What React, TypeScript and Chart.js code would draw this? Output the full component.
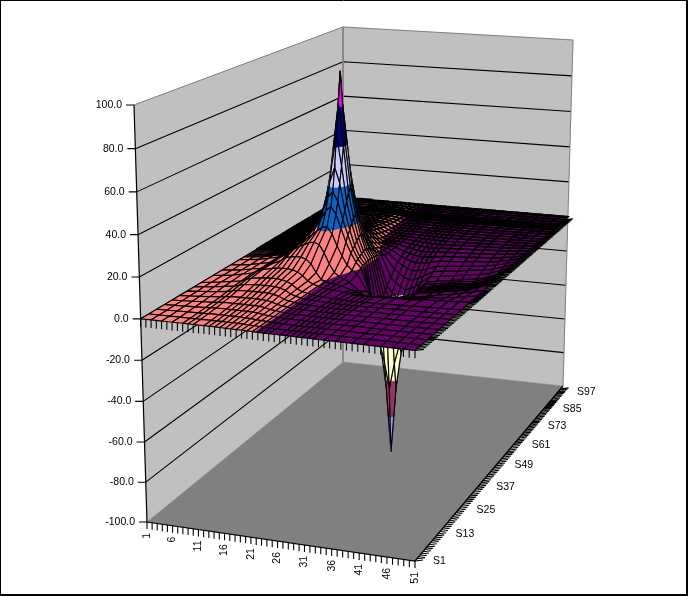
import React, { useEffect, useRef } from "react";
import { Chart, registerables } from "chart.js";

Chart.register(...registerables);

const COLS = [1,3,5,7,9,10,11,13,14,15,16,17,18,19,20,21,22,23,24,25,27,28,29,30,31,32,33,35,37,40,42,45,47,49,51];
const ROWS = [1,4,7,10,13,16,19,22,25,30,34,38,42,44,45,46,47,48,49,50,51,52,53,55,57,59,61,63,65,67,69,71,73,75,77,79,81,83,85,86,87,88,89,90,92,94,96,97];
const S1 = [0,.1,.1,.1,.2,.2,.2,.2,.2,.2,.2,.1,.1,.1,.1,.1,.05,-.1,-.1,-.1,-.1,-.1,-.1,-.1,-.1,-.1,-.1,-.1,-.1,-.1,-.1,-.1,-.1,-.05,-.05];
const S4 = [0,.1,.1,.2,.2,.3,.3,.4,.4,.4,.4,.4,.4,.3,.2,.1,.05,-.1,-.2,-.2,-.2,-.2,-.2,-.2,-.2,-.2,-.2,-.2,-.2,-.2,-.1,-.1,-.1,-.1,-.05];
const S7 = [0,.1,.3,.4,.5,.6,.7,.8,.8,.8,.8,.8,.7,.6,.3,.2,.1,-.2,-.2,-.3,-.3,-.3,-.3,-.3,-.3,-.3,-.3,-.3,-.3,-.3,-.2,-.2,-.1,-.1,-.05];
const S10 = [0,.2,.4,.6,.8,1,1.1,1.2,1.2,1.2,1.2,1.2,1.1,.9,.5,.2,.1,-.2,-.3,-.3,-.3,-.3,-.4,-.4,-.4,-.4,-.4,-.3,-.3,-.3,-.3,-.2,-.2,-.1,-.05];
const S13 = [0,.2,.5,.8,1.1,1.4,1.6,1.7,1.7,1.7,1.7,1.7,1.6,1.2,.6,.3,.1,-.3,-.3,-.4,-.4,-.4,-.5,-.5,-.5,-.5,-.5,-.4,-.4,-.4,-.3,-.3,-.2,-.1,-.05];
const S16 = [0,.3,.7,1.1,1.5,1.9,2.2,2.4,2.4,2.5,2.5,2.4,2.2,1.7,.8,.4,.1,-.3,-.4,-.4,-.5,-.5,-.6,-.6,-.6,-.6,-.6,-.5,-.5,-.4,-.4,-.3,-.2,-.1,-.05];
const S19 = [0,.4,.9,1.4,2,2.5,3,3.3,3.4,3.4,3.4,3.3,3,2.3,1.1,.5,.1,-.4,-.4,-.5,-.6,-.7,-.7,-.8,-.8,-.8,-.7,-.7,-.6,-.5,-.4,-.3,-.2,-.1,-.05];
const S22 = [0,.5,1.1,1.8,2.5,3.2,3.8,4.3,4.4,4.4,4.4,4.3,3.9,3,1.5,.6,.1,-.4,-.5,-.6,-.8,-.9,-1,-1,-1,-1,-1,-.9,-.8,-.6,-.5,-.4,-.3,-.1,-.05];
const S25 = [0,.6,1.3,2.1,2.9,3.9,4.8,5.5,5.7,5.9,5.9,5.6,5,3.8,1.8,.7,.1,-.5,-.6,-.8,-1.1,-1.2,-1.4,-1.5,-1.5,-1.5,-1.4,-1.3,-1.1,-.9,-.7,-.5,-.3,-.2,-.05];
const S28 = [0,.6,1.2,2.3,3.3,4.5,5.6,6.8,7.2,7.4,7.4,7,6.2,4.6,2.2,.8,.1,-.7,-.9,-1.1,-1.6,-2,-2.3,-2.5,-2.5,-2.5,-2.4,-2.2,-2,-1.8,-1.4,-1,-.7,-.4,-.05];
const S31 = [0,.5,1.1,2.1,3,4.3,5.6,8,9.8,10.4,10.8,10.8,10,7.8,3.6,.3,-.6,-1,-1.4,-2,-3.4,-4.4,-5.4,-6,-5.8,-5.4,-5,-5,-4.8,-4.2,-3.4,-2.6,-1.8,-.8,-.05];
const S34 = [0,.5,1.1,2.2,3.2,4.6,6.2,9.5,11.6,12.9,14.3,15.5,16,15,11,5.5,1.4,-.6,-1.5,-3,-7,-9,-11.5,-13,-12,-11,-9.5,-8,-7.4,-6.2,-5,-3.8,-2.6,-1.4,-.05];
const S36 = [0,.5,1.1,2.2,3.3,4.8,6.6,10.4,12.9,14.8,16.7,19,21,21.6,18,12,7,2.6,.2,-1.5,-10,-14,-18,-20,-18.5,-16,-13.5,-10,-8.4,-7.2,-6.2,-5,-3.8,-2,-.05];
const S38 = [0,.5,1.1,2.2,3.4,5,6.9,11.3,14.3,16.7,20,24,28.6,30.8,27,20,13,7.5,3,.2,-14,-21,-27,-30,-27,-22,-18,-12,-10,-8.6,-7.6,-6.5,-5,-2.8,-.05];
const S39 = [0,.5,1.1,2.2,3.4,5,7,11.5,14.8,17.8,22,27.6,34.8,38,33,24,16,9,4,.8,-17,-26,-34,-40,-34,-27,-21,-12.8,-10.6,-9.2,-8.2,-7.2,-5.6,-3.3,-.05];
const S40 = [0,.5,1.1,2.2,3.4,5,7,11.9,15.4,18.6,23.5,31,42,50,42,28,18,10,4.5,1,-26,-40,-50,-64,-50,-40,-30,-14,-11,-9.5,-8.5,-7.5,-6,-3.5,-.05];
const S41 = [0,.5,1.1,2.2,3.4,5,7,12,15.7,19.5,25,35,50,66,50,32,21,12,5.5,1.2,-36,-45,-64,-99.5,-64,-45,-36,-15,-11,-9.5,-8.5,-7.5,-6,-3.5,-.05];
const S42 = [0,.5,1.1,2.2,3.4,5,7.1,12.3,16,20,26,38,60,82,60,36,23,13,6,1.5,-30,-42,-54,-68,-54,-42,-31,-14.6,-11,-9.5,-8.5,-7.5,-6,-3.5,-.05];
const S43 = [0,.5,1.1,2.2,3.4,5,7.1,12.3,16,20,26.7,40,60,98,60,38,24,14,6.5,1.6,-23,-32,-40,-46,-40,-31,-24,-14,-11,-9.5,-8.5,-7.5,-6,-3.5,-.05];
const S44 = [0,.5,1.1,2.2,3.4,5,7.1,12.3,16,20,26,38,60,82,60,36,23,13,6,1.5,-21,-28,-33,-36,-33,-27,-21,-13,-11,-9.5,-8.5,-7.5,-6,-3.5,-.05];
const S45 = [0,.5,1.1,2.2,3.4,5,7,12,15.7,19.5,25,35,50,66,50,32,21,12,5.5,1.2,-19,-24,-28,-30,-28,-24,-19,-12.4,-11,-9.5,-8.5,-7.5,-6,-3.5,-.05];
const S46 = [0,.5,1.1,2.2,3.4,5,7,11.9,15.4,18.6,23.5,31,42,50,42,28,18,10,4.5,1,-17,-21,-24,-26,-24,-21,-17.4,-11.6,-10.6,-9.2,-8.2,-7.2,-5.6,-3.3,-.05];
const S47 = [0,.5,1.1,2.2,3.4,5,7,11.5,14.8,17.8,22,27.6,34.8,38,33,24,16,9,4,.8,-15,-18.5,-21,-23,-21.5,-19,-16,-11,-10,-8.8,-7.8,-6.8,-5.4,-3.2,-.05];
const S49 = [0,.5,1,2,3,4.4,6.2,9.6,13.5,15.7,18,21,23.5,25,21,15,9,4,1,-.3,-12,-14.5,-16.5,-18,-17,-15.5,-13.5,-9.6,-8.8,-7.8,-6.8,-5.8,-4.6,-2.7,-.05];
const S51 = [0,.4,.9,1.8,2.6,3.7,5.1,7.4,10.4,12.4,14.2,16,18,18,14,9,5,1.5,-.4,-2,-9,-11,-12.6,-14,-13.4,-12.5,-11,-8.2,-7.4,-6.6,-5.7,-4.8,-3.8,-2.2,-.05];
const S53 = [0,.4,.8,1.6,2.3,3.3,4.5,6,8,9.6,11,12.6,13.4,13,9.5,6,2.8,.4,-.8,-2,-6.6,-8,-9.4,-10.5,-10.2,-9.6,-8.8,-6.8,-6.2,-5.5,-4.8,-4,-3,-1.8,-.05];
const S55 = [0,.4,.8,1.5,2.2,3.1,4.2,5.5,6.5,7.8,9,10,10.4,9.8,6.8,4,1.4,-.6,-1,-1.8,-4.8,-5.8,-6.8,-7.5,-7.4,-7.1,-6.6,-5.4,-5,-4.4,-3.8,-3.2,-2.4,-1.4,-.05];
const S57 = [0,.4,.7,1.4,2.1,3,4,5,5.6,6.6,7.4,8,8.2,7.2,4.8,2.3,.2,-.5,-1,-1.5,-3.4,-4.2,-4.9,-5.5,-5.4,-5.2,-5,-4.2,-3.9,-3.4,-3,-2.4,-1.8,-1,-.05];
const S59 = [0,.3,.7,1.3,2,2.8,3.7,4.6,5,5.5,6,6.4,6.4,5.2,3.3,.9,-.6,-.8,-1,-1.3,-2.5,-3,-3.6,-4,-4,-3.9,-3.7,-3.2,-2.9,-2.6,-2.2,-1.8,-1.3,-.7,-.05];
const S61 = [0,.3,.7,1.3,1.9,2.6,3.4,4.2,4.4,4.8,5.1,5.4,5.2,4,2.2,.2,-.9,-.9,-1,-1.2,-1.9,-2.3,-2.7,-3,-3,-3,-2.9,-2.5,-2.2,-1.9,-1.6,-1.3,-.9,-.5,-.05];
const S63 = [0,.3,.7,1.2,1.7,2.5,3.2,3.8,4,4.2,4.4,4.6,4.2,3.1,1.4,-.3,-.8,-.9,-1,-1.1,-1.5,-1.8,-2,-2.2,-2.2,-2.2,-2.2,-2,-1.7,-1.4,-1.2,-1,-.7,-.3,-.05];
const S65 = [0,.2,.6,1.1,1.6,2.3,2.9,3.4,3.6,3.7,3.8,3.8,3.4,2.3,.8,-.6,-.8,-.9,-.9,-1,-1.2,-1.4,-1.5,-1.6,-1.7,-1.7,-1.7,-1.6,-1.4,-1.1,-.9,-.7,-.5,-.2,-.05];
const S67 = [0,.2,.5,1,1.5,2.1,2.6,3.1,3.2,3.2,3.3,3.2,2.7,1.8,.4,-.7,-.8,-.8,-.9,-.9,-1,-1.1,-1.2,-1.2,-1.3,-1.3,-1.3,-1.2,-1.1,-.9,-.7,-.5,-.4,-.2,-.05];
const S69 = [0,.2,.5,1,1.4,1.9,2.4,2.8,2.8,2.9,2.9,2.7,2.2,1.3,.1,-.7,-.7,-.8,-.8,-.8,-.9,-.9,-1,-1,-1,-1,-1,-1,-.9,-.7,-.6,-.5,-.3,-.2,-.05];
const S71 = [0,.2,.5,.9,1.3,1.8,2.2,2.5,2.5,2.5,2.5,2.3,1.8,1,-.1,-.7,-.7,-.7,-.7,-.7,-.8,-.8,-.8,-.8,-.8,-.8,-.8,-.8,-.7,-.6,-.5,-.4,-.3,-.2,-.05];
const S73 = [0,.2,.4,.8,1.1,1.6,2,2.2,2.2,2.2,2.2,1.9,1.4,.7,-.2,-.6,-.6,-.6,-.6,-.6,-.7,-.7,-.7,-.7,-.7,-.7,-.7,-.7,-.6,-.5,-.4,-.3,-.3,-.1,-.05];
const S75 = [0,.2,.4,.8,1.1,1.5,1.8,2,2,1.9,1.9,1.7,1.1,.5,-.3,-.6,-.6,-.6,-.6,-.6,-.6,-.6,-.6,-.6,-.6,-.6,-.6,-.6,-.5,-.4,-.4,-.3,-.2,-.1,-.05];
const S77 = [0,.2,.4,.7,1,1.3,1.6,1.7,1.7,1.7,1.6,1.4,.9,.3,-.3,-.5,-.5,-.5,-.5,-.5,-.5,-.5,-.5,-.5,-.5,-.5,-.5,-.5,-.5,-.4,-.3,-.3,-.2,-.1,-.05];
const S79 = [0,.1,.3,.7,.9,1.2,1.4,1.6,1.5,1.4,1.4,1.2,.7,.2,-.3,-.5,-.5,-.5,-.5,-.5,-.5,-.5,-.5,-.5,-.5,-.5,-.5,-.4,-.4,-.4,-.3,-.3,-.2,-.1,-.05];
const S81 = [0,.1,.3,.6,.8,1.1,1.3,1.3,1.3,1.3,1.2,1,.5,.1,-.3,-.4,-.4,-.4,-.4,-.4,-.4,-.4,-.4,-.4,-.4,-.4,-.4,-.4,-.4,-.3,-.3,-.2,-.2,-.1,-.05];
const S83 = [0,.1,.2,.5,.7,.9,1.1,1.1,1.1,1,1,.8,.4,.05,-.3,-.4,-.4,-.4,-.4,-.4,-.4,-.4,-.4,-.4,-.4,-.4,-.4,-.3,-.3,-.3,-.3,-.2,-.2,-.1,-.05];
const S85 = [0,.1,.2,.4,.6,.8,.9,1,.9,.8,.8,.6,.3,.02,-.3,-.3,-.3,-.3,-.3,-.3,-.3,-.3,-.3,-.3,-.3,-.3,-.3,-.3,-.3,-.3,-.2,-.2,-.2,-.1,-.05];
const S87 = [0,.1,.2,.4,.5,.7,.7,.8,.7,.7,.6,.5,.2,.02,-.2,-.3,-.3,-.3,-.3,-.3,-.3,-.3,-.3,-.3,-.3,-.3,-.3,-.3,-.2,-.2,-.2,-.2,-.1,-.1,-.05];
const S89 = [0,.1,.1,.3,.4,.5,.6,.6,.6,.5,.5,.3,.1,.02,-.2,-.2,-.2,-.2,-.2,-.2,-.2,-.2,-.2,-.2,-.2,-.2,-.2,-.2,-.2,-.2,-.2,-.1,-.1,-.1,-.05];
const S91 = [0,.1,.1,.2,.3,.4,.4,.5,.4,.4,.3,.2,.05,.01,-.2,-.2,-.2,-.2,-.2,-.2,-.2,-.2,-.2,-.2,-.2,-.2,-.2,-.2,-.2,-.1,-.1,-.1,-.1,-.1,-.05];
const S93 = [0,.1,.1,.2,.2,.2,.3,.3,.3,.2,.2,.1,.02,.01,-.1,-.1,-.1,-.1,-.1,-.1,-.1,-.1,-.1,-.1,-.1,-.1,-.1,-.1,-.1,-.1,-.1,-.1,-.1,-.1,-.05];
const S95 = [0,.05,.05,.1,.1,.1,.2,.2,.2,.1,.1,.1,.02,.01,-.1,-.1,-.1,-.1,-.1,-.1,-.1,-.1,-.1,-.1,-.1,-.1,-.1,-.1,-.1,-.1,-.1,-.1,-.1,-.05,-.05];
const S97 = [0,.05,.05,.1,.1,.1,.1,.1,.1,.1,.05,.05,.02,.01,-.05,-.05,-.05,-.05,-.05,-.05,-.05,-.05,-.05,-.05,-.05,-.05,-.05,-.05,-.05,-.05,-.05,-.05,-.05,-.05,-.05];
const VALUES = [S1,S4,S7,S10,S13,S16,S19,S22,S25,S28,S31,S34,S36,S38,S39,S40,S41,S42,S43,S44,S45,S46,S47,S49,S51,S53,S55,S57,S59,S61,S63,S65,S67,S69,S71,S73,S75,S77,S79,S81,S83,S85,S87,S89,S91,S93,S95,S97];

const Z_TICKS = [-100,-80,-60,-40,-20,0,20,40,60,80,100];
const BAND_COLORS = ["#9999FF","#993366","#FFFFCC","#CCFFFF","#660066","#FF8080","#0066CC","#CCCCFF","#000080","#FF00FF"];
const COLUMN_LABELS = [1,6,11,16,21,26,31,36,41,46,51];
const SERIES_LABELS = [1,13,25,37,49,61,73,85,97];
const COLUMN_COUNT = 51;
const SERIES_COUNT = 97;

// Box corners on the page: [u, v, w, x, y]
const BOX = [
  [0,0,0,147,522],[1,0,0,415,561],[0,1,0,343,362],[1,1,0,563,386],
  [0,0,1,134,105],[1,0,1,415,128],[0,1,1,343,27],[1,1,1,573,40],
];
const PERSPECTIVE = [-0.05, 0.28, -0.05];

type P = { x: number; y: number };
function project(col: number, row: number, z: number): P {
  const u = (col - 1) / (COLUMN_COUNT - 1);
  const v = (row - 1) / (SERIES_COUNT - 1);
  const w = (z + 100) / 200;
  let sx = 0, sy = 0, sw = 0;
  for (const [a, b, c, x, y] of BOX) {
    const basis = (a ? u : 1 - u) * (b ? v : 1 - v) * (c ? w : 1 - w);
    const h = (1 + PERSPECTIVE[0] * a + PERSPECTIVE[1] * b + PERSPECTIVE[2] * c) * basis;
    sx += h * x; sy += h * y; sw += h;
  }
  return { x: sx / sw, y: sy / sw };
}

type V = { c: number; r: number; z: number };
function clip(poly: V[], level: number, keepAbove: boolean): V[] {
  const out: V[] = [];
  for (let i = 0; i < poly.length; i++) {
    const a = poly[i], b = poly[(i + 1) % poly.length];
    const ia = keepAbove ? a.z >= level : a.z <= level;
    const ib = keepAbove ? b.z >= level : b.z <= level;
    if (ia) out.push(a);
    if (ia !== ib) {
      const t = (level - a.z) / (b.z - a.z);
      out.push({ c: a.c + (b.c - a.c) * t, r: a.r + (b.r - a.r) * t, z: level });
    }
  }
  return out;
}

// mesh lines crowd together towards the back of the surface
function meshWidth(col: number, row: number) {
  if (col <= 5 && row >= 50) return 2.6;
  if (row >= 80) return 1.7;
  if (row >= 60) return 1.5;
  return 1.15;
}

function buildDatasets() {
  const list: any[] = [];
  const line = (data: P[], color: string, width = 1) =>
    list.push({ data, showLine: true, borderColor: color, borderWidth: width, pointRadius: 0, fill: false, spanGaps: false });
  const shape = (data: P[], color: string, edge = color, width = 0.5) =>
    list.push({ data: [...data, data[0]], showLine: true, borderColor: edge, borderWidth: width, backgroundColor: color, pointRadius: 0, fill: "shape" });
  const gap = { x: NaN, y: NaN };
  const [cMax, rMax] = [COLUMN_COUNT, SERIES_COUNT];

  // walls and floor
  shape([project(1,1,-100), project(1,1,100), project(1,rMax,100), project(1,rMax,-100)], "#C0C0C0");
  shape([project(1,rMax,-100), project(1,rMax,100), project(cMax,rMax,100), project(cMax,rMax,-100)], "#C0C0C0");
  shape([project(1,1,-100), project(cMax,1,-100), project(cMax,rMax,-100), project(1,rMax,-100)], "#808080");

  // gridlines
  const grid: P[] = [];
  for (const z of Z_TICKS) {
    if (Math.abs(z) === 100) continue;
    grid.push(project(1,1,z), project(1,rMax,z), project(cMax,rMax,z), gap);
  }
  line(grid, "#000000", 1.1);
  line([project(1,1,100), project(1,rMax,100), project(cMax,rMax,100), project(cMax,rMax,-100)], "#808080");
  line([project(1,rMax,100), project(1,rMax,-100)], "#808080");

  // axis lines and tick marks
  line([project(1,1,100), project(1,1,-100), project(cMax,1,-100), project(cMax,rMax,-100)], "#000000", 1.2);
  const ticks: P[] = [];
  for (const z of Z_TICKS) {
    const p = project(1,1,z);
    ticks.push({ x: p.x - 8, y: p.y }, p, gap);
  }
  for (let c = 1; c <= cMax; c++) {
    const p = project(c,1,-100);
    ticks.push(p, { x: p.x, y: p.y + 7 }, gap);
    const q = project(c,1,0);
    ticks.push(q, { x: q.x, y: q.y + 8 }, gap);
  }
  for (let r = 1; r <= rMax; r++) {
    const p = project(cMax,r,-100);
    ticks.push(p, { x: p.x + 8, y: p.y - 1 }, gap);
    const q = project(cMax,r,0);
    ticks.push(q, { x: q.x + 9, y: q.y - 1 }, gap);
  }
  line(ticks, "#000000", 1.1);

  // surface, back to front
  for (let j = ROWS.length - 2; j >= 0; j--) {
    for (let i = 0; i < COLS.length - 1; i++) {
      const quad: V[] = [
        { c: COLS[i], r: ROWS[j], z: VALUES[j][i] },
        { c: COLS[i + 1], r: ROWS[j], z: VALUES[j][i + 1] },
        { c: COLS[i + 1], r: ROWS[j + 1], z: VALUES[j + 1][i + 1] },
        { c: COLS[i], r: ROWS[j + 1], z: VALUES[j + 1][i] },
      ];
      const outline = quad.map((v) => project(v.c, v.r, v.z));
      const zs = quad.map((v) => v.z);
      const lo = Math.min(...zs), hi = Math.max(...zs);
      const first = Math.floor((lo + 100) / 20), last = Math.min(9, Math.floor((hi + 100) / 20));
      const width = meshWidth(COLS[i], ROWS[j]);
      if (first === last) {
        shape(outline, BAND_COLORS[first], "#000000", width);
        continue;
      }
      for (let b = first; b <= last; b++) {
        const low = -100 + b * 20;
        const part = clip(clip(quad, low, true), low + 20, false);
        if (part.length >= 3) shape(part.map((v) => project(v.c, v.r, v.z)), BAND_COLORS[b]);
      }
      line([...outline, outline[0]], "#000000", width);
    }
  }

  // frame
  line([{ x: 686.5, y: 0.5 }, { x: 0.5, y: 0.5 }, { x: 0.5, y: 594.5 }], "#000000");
  line([{ x: 687, y: 0 }, { x: 687, y: 595 }, { x: 0, y: 595 }], "#000000", 2);
  return list.reverse();
}

const axisLabels = {
  id: "axisLabels",
  afterDatasetsDraw(chart: any) {
    const { ctx } = chart;
    ctx.save();
    ctx.fillStyle = "#000000";
    ctx.font = "10.5px 'Liberation Sans', Arial, sans-serif";
    ctx.textBaseline = "middle";
    ctx.textAlign = "right";
    for (const z of Z_TICKS) {
      const p = project(1, 1, z);
      ctx.fillText(z.toFixed(1), p.x - 12, p.y);
    }
    ctx.textAlign = "left";
    for (const s of SERIES_LABELS) {
      const p = project(COLUMN_COUNT, s, -100);
      const t = (s - 1) / (SERIES_COUNT - 1);
      ctx.fillText("S" + s, p.x + 18 - 4 * t, p.y + 6 * t);
    }
    for (const c of COLUMN_LABELS) {
      const p = project(c, 1, -100);
      ctx.save();
      ctx.translate(p.x, p.y + 11);
      ctx.rotate(-Math.PI / 2);
      ctx.textAlign = "right";
      ctx.fillText(String(c), 0, 0);
      ctx.restore();
    }
    ctx.restore();
  },
};

export default function App() {
  const ref = useRef<HTMLCanvasElement>(null);
  useEffect(() => {
    const chart = new Chart(ref.current as HTMLCanvasElement, {
      type: "scatter",
      data: { datasets: buildDatasets() },
      plugins: [axisLabels],
      options: {
        animation: false,
        responsive: false,
        parsing: false,
        normalized: false,
        events: [],
        layout: { padding: 0 },
        elements: { line: { tension: 0 } },
        scales: {
          x: { type: "linear", min: 0, max: 688, display: false },
          y: { type: "linear", min: 0, max: 596, reverse: true, display: false },
        },
        plugins: { legend: { display: false }, tooltip: { enabled: false }, title: { display: false } },
      },
    } as any);
    return () => chart.destroy();
  }, []);
  return (
    <div style={{ position: "fixed", left: 0, top: 0, width: 688, height: 596, background: "#fff" }}>
      <canvas ref={ref} width={688} height={596} style={{ display: "block" }} />
    </div>
  );
}
